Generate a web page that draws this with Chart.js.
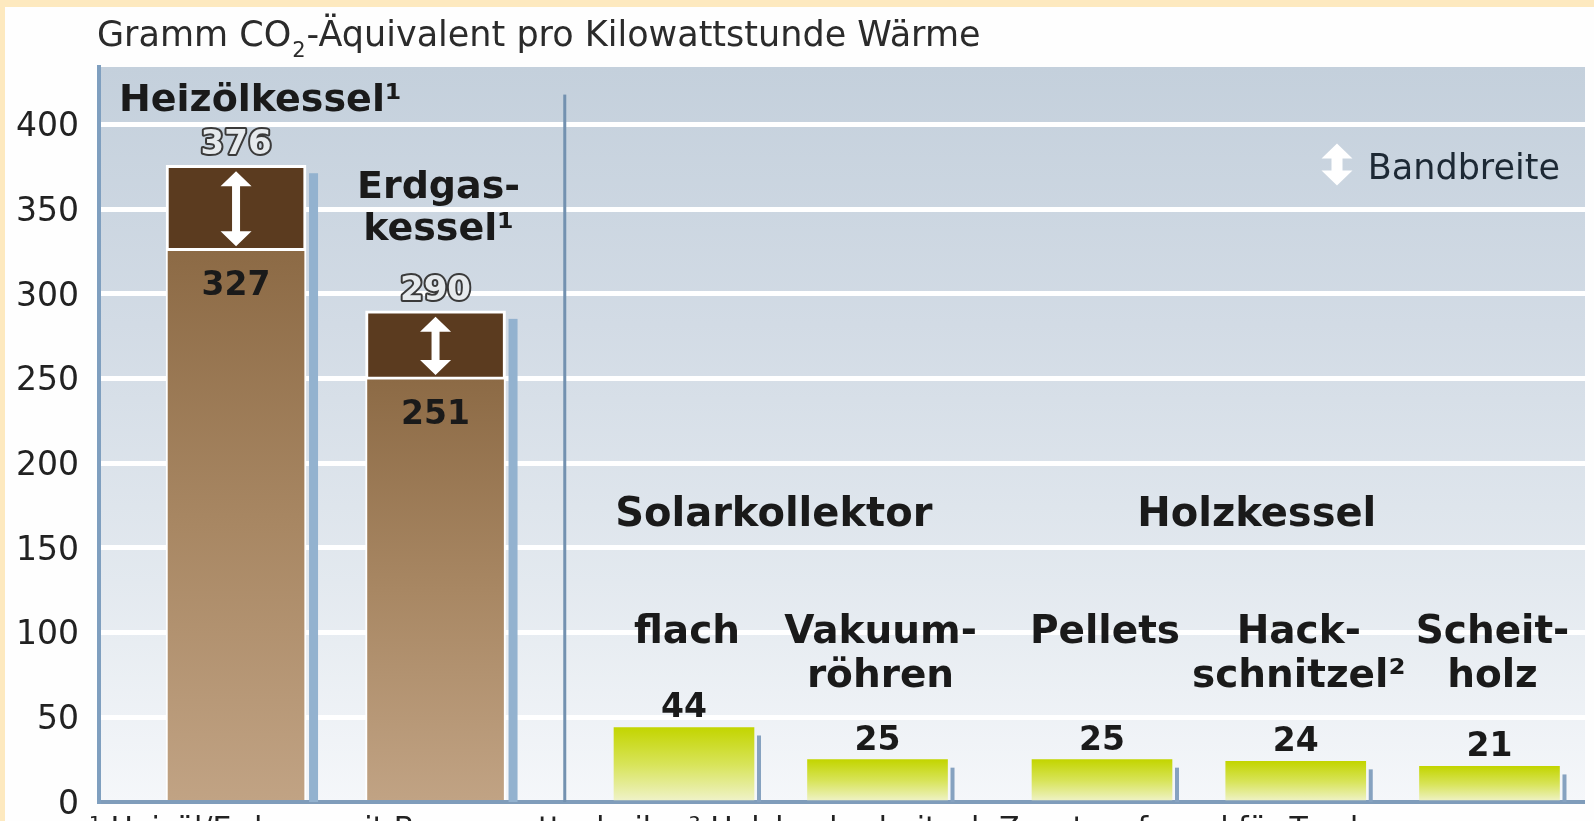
<!DOCTYPE html>
<html lang="de">
<head>
<meta charset="utf-8">
<title>Gramm CO2-Äquivalent pro Kilowattstunde Wärme</title>
<script src="https://cdn.jsdelivr.net/npm/chart.js@4.4.1/dist/chart.umd.min.js"></script>
<style>
    html, body { margin: 0; padding: 0; background: #fff; }
    #wrap { width: 1594px; height: 821px; }
</style>
</head>
<body>
<div id="wrap"><canvas id="co2Chart" width="1594" height="821"></canvas></div>
<script>
// Werte aus der Grafik
const fossilLabels = ['Heizölkessel¹', 'Erdgaskessel¹'];
const fossilLow = [327, 251];
const fossilHigh = [376, 290];

const solarLabels = [['flach'], ['Vakuum-', 'röhren']];
const solarValues = [44, 25];

const woodLabels = [['Pellets'], ['Hack-', 'schnitzel²'], ['Scheit-', 'holz']];
const woodValues = [25, 24, 21];

const yTicks = [0, 50, 100, 150, 200, 250, 300, 350, 400];

const FONT = '"DejaVu Sans", sans-serif';

function drawArrow(ctx, x, y1, y2, headW, headH, shaftW) {
    ctx.beginPath();
    ctx.moveTo(x, y1);
    ctx.lineTo(x + headW / 2, y1 + headH);
    ctx.lineTo(x + shaftW / 2, y1 + headH);
    ctx.lineTo(x + shaftW / 2, y2 - headH);
    ctx.lineTo(x + headW / 2, y2 - headH);
    ctx.lineTo(x, y2);
    ctx.lineTo(x - headW / 2, y2 - headH);
    ctx.lineTo(x - shaftW / 2, y2 - headH);
    ctx.lineTo(x - shaftW / 2, y1 + headH);
    ctx.lineTo(x - headW / 2, y1 + headH);
    ctx.closePath();
    ctx.fill();
}

function vGradient(chart, top, stops) {
    const y = chart.scales.y;
    const g = chart.ctx.createLinearGradient(0, top, 0, y.getPixelForValue(0));
    stops.forEach((c, i) => g.addColorStop(i / (stops.length - 1), c));
    return g;
}

const decor = {
    id: 'decor',
    beforeDraw(chart) {
        const { ctx, chartArea: a, width, height } = chart;
        ctx.save();
        ctx.fillStyle = '#fefefe';
        ctx.fillRect(0, 0, width, height);
        ctx.fillStyle = '#fde9bf';
        ctx.fillRect(0, 0, width, 7);
        ctx.fillRect(0, 0, 5, height);

        const bg = ctx.createLinearGradient(0, a.top, 0, a.bottom);
        bg.addColorStop(0, '#c4d0dc');
        bg.addColorStop(0.35, '#d2dbe5');
        bg.addColorStop(0.7, '#e3e9ef');
        bg.addColorStop(1, '#f5f7fa');
        ctx.fillStyle = bg;
        ctx.fillRect(a.left, a.top, a.right - a.left, a.bottom - a.top);

        // Titel
        ctx.fillStyle = '#2b2b2b';
        ctx.textBaseline = 'alphabetic';
        ctx.textAlign = 'left';
        ctx.font = '35px ' + FONT;
        let x = 97;
        ctx.fillText('Gramm CO', x, 46);
        x += ctx.measureText('Gramm CO').width;
        ctx.font = '21px ' + FONT;
        ctx.fillText('2', x + 1, 57);
        x += ctx.measureText('2').width + 2;
        ctx.font = '35px ' + FONT;
        ctx.fillText('-Äquivalent pro Kilowattstunde Wärme', x, 46);

        // Fußnote (unten abgeschnitten)
        ctx.font = '30px ' + FONT;
        ctx.fillStyle = '#222';
        ctx.fillText('¹ Heizöl/Erdgas: mit Brennwerttechnik   ² Holzhackschnitzel: Zusatzaufwand für Trocknung', 89, 838);
        ctx.restore();
    },
    beforeDatasetsDraw(chart) {
        const { ctx } = chart;
        const y = chart.scales.y;
        const zero = y.getPixelForValue(0);
        ctx.save();
        // Schatten rechts neben den Balken
        ctx.fillStyle = '#93b2cf';
        chart.getDatasetMeta(1).data.forEach(b => {
            ctx.fillRect(b.x + b.width / 2 + 3, b.y + 8, 9, zero - b.y - 8);
        });
        ctx.fillStyle = '#86a2c0';
        [2, 3].forEach(d => {
            chart.getDatasetMeta(d).data.forEach(b => {
                ctx.fillRect(b.x + b.width / 2 + 3, b.y + 8, 4, zero - b.y - 8);
            });
        });
        // Trennlinie fossil / erneuerbar
        const f = chart.getDatasetMeta(1).data[1];
        const s = chart.getDatasetMeta(2).data[0];
        const sx = (f.x + s.x) / 2 + 5;
        const top = y.getPixelForValue(400) - 30;
        ctx.fillStyle = '#7391b0';
        ctx.fillRect(sx - 1.5, top, 3, zero - top);
        ctx.restore();
    },
    afterDatasetsDraw(chart) {
        const { ctx, chartArea: a } = chart;
        const y = chart.scales.y;
        const fossil = chart.getDatasetMeta(1).data;
        const solar = chart.getDatasetMeta(2).data;
        const wood = chart.getDatasetMeta(3).data;
        ctx.save();
        ctx.textBaseline = 'alphabetic';

        // Überschriften
        ctx.fillStyle = '#1a1a1a';
        ctx.font = 'bold 38px ' + FONT;
        ctx.textAlign = 'left';
        ctx.fillText(fossilLabels[0], a.left + 20, y.getPixelForValue(400) - 14);
        ctx.textAlign = 'center';
        ctx.fillText('Erdgas-', fossil[1].x + 3, fossil[1].y - 113);
        ctx.fillText('kessel¹', fossil[1].x + 3, fossil[1].y - 71);
        ctx.font = 'bold 40px ' + FONT;
        ctx.fillText('Solarkollektor', (solar[0].x + solar[1].x) / 2 - 7, y.getPixelForValue(150) - 22);
        ctx.fillText('Holzkessel', wood[1].x - 39, y.getPixelForValue(150) - 22);

        // Bandbreiten fossil
        fossil.forEach((b, i) => {
            ctx.font = 'bold 34px ' + FONT;
            ctx.lineWidth = 4;
            ctx.strokeStyle = '#3a3a3a';
            ctx.lineJoin = 'round';
            ctx.strokeText(String(fossilHigh[i]), b.x, b.y - 11);
            ctx.fillStyle = '#e6eaed';
            ctx.fillText(String(fossilHigh[i]), b.x, b.y - 11);
            ctx.font = 'bold 33px ' + FONT;
            ctx.fillStyle = '#1a1a1a';
            ctx.fillText(String(fossilLow[i]), b.x, b.base + 47);
            ctx.fillStyle = '#ffffff';
            drawArrow(ctx, b.x, b.y + 6, b.base - 2, 31, 15, 8);
        });

        // Kategorien und Werte
        const drawGroup = (bars, labels, values) => {
            bars.forEach((b, i) => {
                ctx.fillStyle = '#1a1a1a';
                ctx.font = 'bold 39px ' + FONT;
                labels[i].forEach((line, k) => {
                    ctx.fillText(line, b.x + 3, y.getPixelForValue(100) + 10 + k * 44);
                });
                ctx.font = 'bold 33px ' + FONT;
                ctx.fillText(String(values[i]), b.x, b.y - 10);
            });
        };
        drawGroup(solar, solarLabels, solarValues);
        drawGroup(wood, woodLabels, woodValues);

        // Legende
        const ly = y.getPixelForValue(400) + 40;
        ctx.fillStyle = '#ffffff';
        drawArrow(ctx, a.right - 248, ly - 21, ly + 21, 31, 15, 11);
        ctx.fillStyle = '#1d2935';
        ctx.font = '35px ' + FONT;
        ctx.textAlign = 'right';
        ctx.fillText('Bandbreite', a.right - 25, ly + 14);
        ctx.restore();
    }
};

const ctx = document.getElementById('co2Chart').getContext('2d');
new Chart(ctx, {
    type: 'bar',
    data: {
        datasets: [
            {
                label: 'fossil min',
                xAxisID: 'xFossil',
                data: fossilLow.map((v, i) => ({ x: i, y: v })),
                backgroundColor: c => {
                    if (!c.chart.chartArea) return '#a88660';
                    return vGradient(c.chart, c.chart.scales.y.getPixelForValue(fossilLow[c.dataIndex]), ['#8c6a45', '#a88763', '#c1a384']);
                },
                borderColor: '#ffffff',
                borderWidth: { top: 3, left: 2, right: 2, bottom: 0 },
                borderSkipped: false,
                barThickness: 140,
                grouped: false
            },
            {
                label: 'fossil Bandbreite',
                xAxisID: 'xFossil',
                data: fossilLow.map((v, i) => ({ x: i, y: [v, fossilHigh[i]] })),
                backgroundColor: '#5b3b1f',
                borderColor: '#ffffff',
                borderWidth: { top: 3, left: 3, right: 3, bottom: 0 },
                borderSkipped: false,
                barThickness: 140,
                grouped: false
            },
            {
                label: 'Solarkollektor',
                xAxisID: 'xSolar',
                data: solarValues.map((v, i) => ({ x: i, y: v })),
                backgroundColor: c => {
                    if (!c.chart.chartArea) return '#d6e25a';
                    return vGradient(c.chart, c.chart.scales.y.getPixelForValue(solarValues[c.dataIndex]), ['#c3d500', '#d8e45a', '#f0f3cc']);
                },
                borderWidth: 0,
                barThickness: 140,
                grouped: false
            },
            {
                label: 'Holzkessel',
                xAxisID: 'xWood',
                data: woodValues.map((v, i) => ({ x: i, y: v })),
                backgroundColor: c => {
                    if (!c.chart.chartArea) return '#d6e25a';
                    return vGradient(c.chart, c.chart.scales.y.getPixelForValue(woodValues[c.dataIndex]), ['#c3d500', '#d8e45a', '#f0f3cc']);
                },
                borderWidth: 0,
                barThickness: 140,
                grouped: false
            }
        ]
    },
    options: {
        responsive: false,
        animation: false,
        layout: { padding: { top: 67, right: 9, bottom: 19, left: 0 } },
        plugins: {
            legend: { display: false },
            tooltip: { enabled: false }
        },
        scales: {
            y: {
                min: 0,
                max: 434,
                afterFit: s => { s.width = 99; s.paddingTop = 0; s.paddingBottom = 0; },
                afterBuildTicks: s => { s.ticks = yTicks.map(v => ({ value: v })); },
                grid: {
                    color: c => (c.tick && c.tick.value === 0) ? '#7f9cba' : '#ffffff',
                    lineWidth: c => (c.tick && c.tick.value === 0) ? 4 : 5,
                    drawTicks: false
                },
                border: { display: true, color: '#7f9fbf', width: 4 },
                ticks: { padding: 20, labelOffset: 3, color: '#222', font: { family: FONT, size: 33 } }
            },
            // drei Gruppen, jeweils eigene Achse für die Abstände
            xFossil: { type: 'linear', display: false, offset: false, min: -0.687, max: 6.762 },
            xSolar: { type: 'linear', display: false, offset: false, min: -3.023, max: 4.656 },
            xWood: { type: 'linear', display: false, offset: false, min: -5.177, max: 2.493 }
        }
    },
    plugins: [decor]
});
</script>
</body>
</html>
